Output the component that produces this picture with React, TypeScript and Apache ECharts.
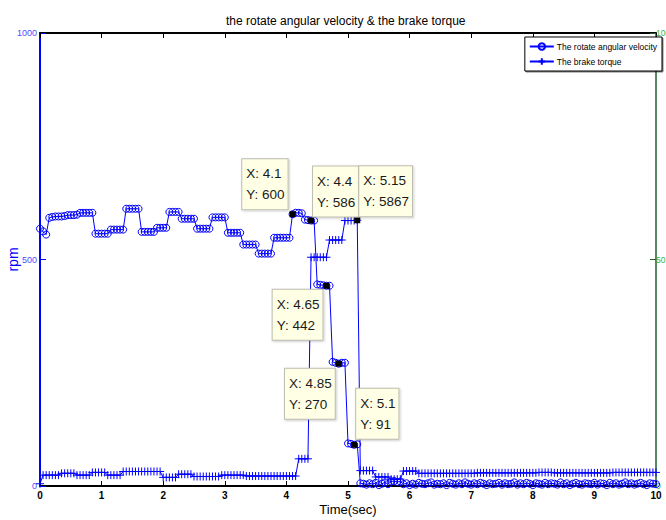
import React, { useEffect, useRef } from "react";
import * as echarts from "echarts";

// ---- data (sampled every 0.05 s, t = 0 … 10 s) ----
const SAMPLE_STEP = 0.05;

const rotateVelocity = [
  568, 562, 555, 592, 594, 595, 595, 595, 596, 598,
  598, 598, 599, 603, 603, 603, 603, 603, 557, 557,
  557, 557, 557, 566, 566, 566, 566, 566, 612, 612,
  612, 612, 612, 561, 561, 561, 561, 561, 570, 570,
  570, 570, 605, 605, 605, 605, 590, 590, 590, 590,
  590, 568, 568, 568, 568, 568, 593, 593, 593, 593,
  593, 559, 559, 559, 559, 559, 533, 533, 533, 533,
  533, 513, 513, 513, 513, 513, 548, 548, 548, 548,
  548, 548, 600, 603, 603, 602, 588, 587, 586, 586,
  445, 444, 443, 442, 442, 274, 272, 270, 272, 272,
  94, 93, 91, 92, 6, 5, 3, 6, 4, 7,
  2, 5, 8, 4, 10, 11, 9, 10, 4, 6,
  2, 5, 3, 7, 5, 4, 6, 8, 3, 5,
  4, 6, 2, 7, 5, 3, 6, 4, 8, 5,
  3, 6, 4, 7, 5, 2, 6, 4, 5, 7,
  3, 6, 4, 5, 8, 3, 6, 4, 7, 5,
  2, 6, 5, 3, 7, 4, 6, 5, 3, 8,
  4, 6, 2, 5, 7, 4, 3, 6, 5, 4,
  7, 3, 6, 5, 2, 7, 4, 6, 3, 5,
  8, 4, 6, 3, 5, 7, 4, 2, 6, 5,
  4,
];

const brakeTorque = [
  0.5, 2.4, 2.4, 2.4, 2.4, 2.4, 2.4, 2.8, 2.8, 2.8,
  2.8, 2.8, 2.4, 2.4, 2.4, 2.4, 2.4, 3.0, 3.0, 3.0,
  3.0, 3.0, 2.4, 2.4, 2.4, 2.4, 2.4, 3.2, 3.2, 3.2,
  3.2, 3.2, 3.2, 3.2, 3.2, 3.2, 3.2, 3.2, 3.2, 3.2,
  1.9, 1.9, 1.9, 1.9, 1.9, 2.6, 2.6, 2.6, 2.6, 2.6,
  2.1, 2.1, 2.1, 2.1, 2.1, 2.1, 2.1, 2.1, 2.1, 2.4,
  2.4, 2.4, 2.4, 2.4, 2.4, 2.4, 2.4, 2.2, 2.2, 2.2,
  2.2, 2.2, 2.2, 2.2, 2.2, 2.2, 2.2, 2.2, 2.2, 2.2,
  2.2, 2.2, 2.2, 2.2, 6.0, 6.0, 6.0, 6.0, 50.5, 50.5,
  50.5, 50.5, 50.5, 50.5, 54.3, 54.3, 54.3, 54.3, 54.3, 58.6,
  58.6, 58.6, 58.6, 58.67, 3.4, 3.4, 3.4, 3.4, 3.4, 2.0,
  2.0, 2.0, 2.0, 2.0, 1.5, 1.5, 1.5, 1.5, 3.3, 3.3,
  3.3, 3.3, 3.3, 2.8, 2.8, 2.8, 2.8, 2.8, 2.8, 2.8,
  2.8, 2.8, 2.8, 2.8, 2.8, 2.8, 2.8, 2.8, 2.8, 2.8,
  2.8, 2.8, 2.9, 2.9, 2.9, 2.9, 2.9, 2.9, 2.9, 2.9,
  2.9, 2.9, 2.9, 2.9, 2.9, 2.9, 2.9, 2.9, 2.9, 2.9,
  2.9, 2.9, 3.0, 3.0, 3.0, 3.0, 3.0, 2.9, 2.9, 2.9,
  2.9, 2.9, 2.9, 2.9, 2.9, 2.9, 2.9, 2.9, 2.9, 2.9,
  2.9, 2.9, 2.9, 2.9, 2.9, 2.9, 3.0, 3.0, 3.0, 3.0,
  3.0, 3.0, 3.0, 3.0, 3.0, 3.0, 3.0, 3.0, 3.0, 3.0,
  3.0,
];

const velocityTipTimes = [4.1, 4.4, 4.65, 4.85, 5.1];
const torqueTipTimes = [5.15];
const TORQUE_TIP_SCALE = 100; // data tip shows torque in raw units

const xTickLabels = ["0", "1", "2", "3", "4", "5", "6", "7", "8", "9", "10"];

// ---- styling (kept apart from data) ----
const FONT = "'Liberation Sans', Arial, sans-serif";
const BLUE = "#0000ff";
const GREEN_AXIS = "#1f5f2f";
const velocityTipPlacement = [
  { position: [-2, -2], align: "right", verticalAlign: "bottom" },
  { position: [5, -1], align: "left", verticalAlign: "bottom" },
  { position: [-1, 7], align: "right", verticalAlign: "top" },
  { position: [-1, 8], align: "right", verticalAlign: "top" },
  { position: [5, -3], align: "left", verticalAlign: "bottom" },
];
const torqueTipPlacement = [{ position: [5, -1], align: "left", verticalAlign: "bottom" }];

const tipLabelStyle = {
  show: true,
  formatter: "{b}",
  backgroundColor: "#ffffe6",
  borderColor: "#bdbdb0",
  borderWidth: 1,
  padding: [4, 3, 4, 4],
  shadowColor: "rgba(0,0,0,0.2)",
  shadowBlur: 2,
  shadowOffsetX: 1,
  shadowOffsetY: 1,
  rich: {
    t: { fontFamily: FONT, fontSize: 13.5, lineHeight: 21, color: "#1a1a1a", align: "left" },
  },
};

export default function App() {
  const ref = useRef<HTMLDivElement>(null);

  useEffect(() => {
    document.body.style.margin = "0";
    if (!ref.current) return;
    const chart = echarts.init(ref.current, undefined, { renderer: "svg" });

    const timeSec = rotateVelocity.map((_, i) => +(i * SAMPLE_STEP).toFixed(2));
    const velocityData = timeSec.map((t, i) => [t, rotateVelocity[i]]);
    const torqueData = timeSec.map((t, i) => [t, brakeTorque[i]]);
    const idx = (t: number) => Math.round(t / SAMPLE_STEP);

    const velocityTips = velocityTipTimes.map((t, k) => {
      const v = rotateVelocity[idx(t)];
      return {
        name: `{t|X: ${t}}\n{t|Y: ${v}}`,
        coord: [t, v],
        label: { ...tipLabelStyle, ...velocityTipPlacement[k] },
      };
    });
    const torqueTips = torqueTipTimes.map((t, k) => {
      const v = brakeTorque[idx(t)];
      return {
        name: `{t|X: ${t}}\n{t|Y: ${Math.round(v * TORQUE_TIP_SCALE)}}`,
        coord: [t, v],
        label: { ...tipLabelStyle, ...torqueTipPlacement[k] },
      };
    });

    const tipMark = (data: any[]) => ({
      symbol: "rect",
      symbolSize: 6,
      itemStyle: { color: "#000", borderColor: "#000", borderWidth: 0 },
      label: tipLabelStyle,
      data,
      z: 10,
    });

    chart.setOption({
      animation: false,
      backgroundColor: "#ffffff",
      title: {
        text: "the rotate angular velocity & the brake torque",
        left: 221,
        top: 10,
        textStyle: { fontFamily: FONT, fontSize: 12, fontWeight: "normal", color: "#000" },
      },
      legend: {
        orient: "vertical",
        right: 4,
        top: 37,
        itemWidth: 24,
        itemHeight: 8,
        itemGap: 6,
        padding: [5, 5, 5, 4],
        backgroundColor: "#fff",
        borderColor: "#000",
        borderWidth: 1,
        shadowColor: "rgba(0,0,0,0.5)",
        shadowOffsetX: 1,
        shadowOffsetY: 1,
        textStyle: { fontFamily: FONT, fontSize: 8.5, color: "#000", padding: [0, 0, 0, -2] },
        data: ["The rotate angular velocity", "The brake torque"],
      },
      grid: { left: 40, right: 10, top: 33, bottom: 34, containLabel: false, outerBoundsMode: "none" },
      xAxis: [
        {
          type: "value",
          min: 0,
          max: 10,
          interval: 1,
          name: "Time(sec)",
          nameLocation: "middle",
          nameGap: 17,
          nameMoveOverlap: false,
          nameTextStyle: { fontFamily: FONT, fontSize: 13, color: "#000" },
          axisLine: { onZero: false, lineStyle: { color: "#000", width: 2 } },
          axisTick: { inside: true, length: 5, lineStyle: { color: "#000" } },
          axisLabel: {
            fontFamily: FONT,
            fontSize: 10,
            fontWeight: "bold",
            color: "#000",
            margin: 4,
            formatter: (v: number) => xTickLabels[Math.round(v)] ?? "",
          },
          splitLine: { show: false },
        },
        {
          type: "value",
          position: "top",
          min: 0,
          max: 10,
          interval: 1,
          axisLine: { onZero: false, lineStyle: { color: "#000", width: 2 } },
          axisTick: { inside: true, length: 5, lineStyle: { color: "#000" } },
          axisLabel: { show: false },
          splitLine: { show: false },
        },
      ],
      yAxis: [
        {
          type: "value",
          position: "left",
          min: 0,
          max: 1000,
          interval: 500,
          name: "rpm",
          nameLocation: "middle",
          nameGap: 20,
          nameMoveOverlap: false,
          nameTextStyle: { fontFamily: FONT, fontSize: 14, color: BLUE },
          axisLine: { show: true, onZero: false, lineStyle: { color: BLUE, width: 2 } },
          axisTick: { show: true, inside: true, length: 6, lineStyle: { color: BLUE } },
          axisLabel: {
            fontFamily: FONT,
            fontSize: 9,
            color: "#4d4dff",
            margin: 3,
            formatter: (v: number) => String(v),
          },
          splitLine: { show: false },
        },
        {
          type: "value",
          min: 0,
          max: 100,
          interval: 50,
          position: "right",
          axisLine: { show: true, onZero: false, lineStyle: { color: GREEN_AXIS, width: 1.5 } },
          axisTick: { show: true, inside: true, length: 6, lineStyle: { color: GREEN_AXIS } },
          axisLabel: {
            fontFamily: FONT,
            fontSize: 8.5,
            color: "#3cb043",
            margin: 0,
            formatter: (v: number) => String(v),
          },
          splitLine: { show: false },
        },
      ],
      series: [
        {
          name: "The rotate angular velocity",
          type: "line",
          xAxisIndex: 0,
          yAxisIndex: 0,
          data: velocityData,
          symbol: "circle",
          symbolSize: 7,
          showAllSymbol: true,
          lineStyle: { color: BLUE, width: 1 },
          itemStyle: { color: "rgba(0,0,0,0)", borderColor: BLUE, borderWidth: 1 },
          markPoint: tipMark(velocityTips),
          z: 3,
        },
        {
          name: "The brake torque",
          type: "line",
          xAxisIndex: 0,
          yAxisIndex: 1,
          data: torqueData,
          symbol: "path://M5,0L5,10M0,5L10,5",
          symbolSize: 8,
          showAllSymbol: true,
          lineStyle: { color: BLUE, width: 1 },
          itemStyle: { color: "rgba(0,0,0,0)", borderColor: BLUE, borderWidth: 1 },
          markPoint: tipMark(torqueTips),
          z: 3,
        },
      ],
    });

    return () => chart.dispose();
  }, []);

  return (
    <div
      ref={ref}
      style={{ position: "absolute", left: 0, top: 0, width: 666, height: 520 }}
    />
  );
}
